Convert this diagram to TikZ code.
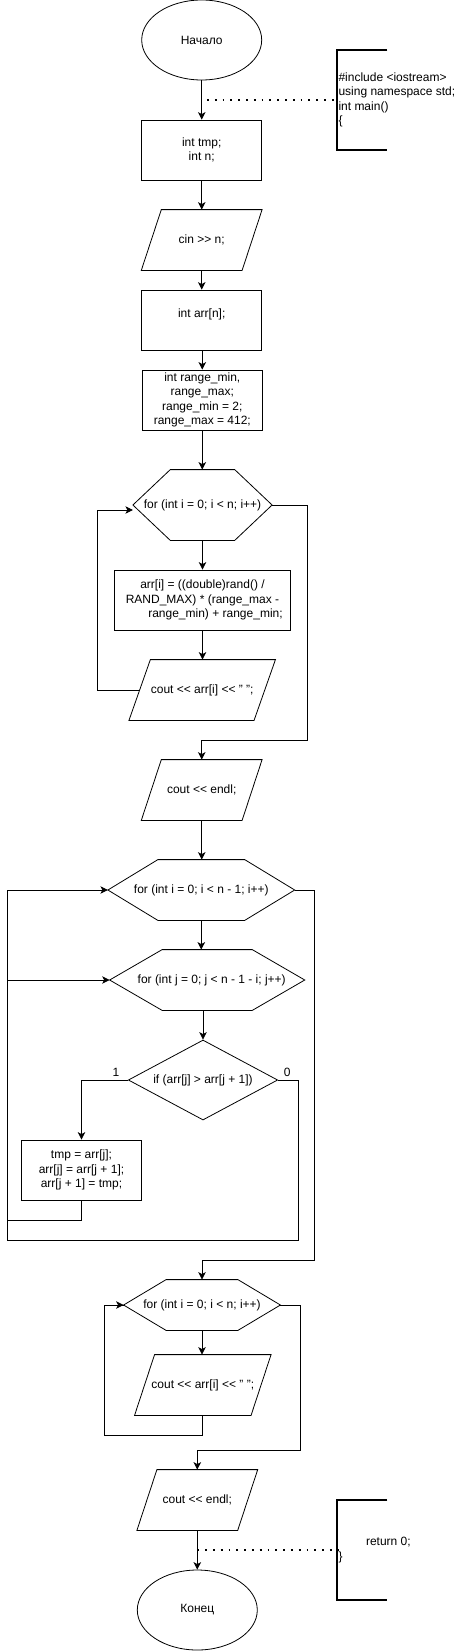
\documentclass[tikz,border=0pt]{standalone}
\usepackage{fontspec}
\setmainfont{Liberation Sans}
\usetikzlibrary{shapes.geometric,arrows.meta}
\newcommand\pgram[2]{\draw (#1.south west) -- ([xshift=#2]#1.north west) -- (#1.north east) -- ([xshift=-#2]#1.south east) -- cycle;}
\newcommand\hexa[2]{\draw (#1.west) -- ([xshift=#2]#1.north west) -- ([xshift=-#2]#1.north east) -- (#1.east) -- ([xshift=-#2]#1.south east) -- ([xshift=#2]#1.south west) -- cycle;}
\begin{document}
\begin{tikzpicture}[x=1pt,y=-1pt,
  every node/.style={font=\fontsize{12}{14.4}\selectfont, inner sep=0pt},
  term/.style={draw, ellipse, minimum width=120pt, minimum height=80pt},
  proc/.style={draw, rectangle, align=center},
  shp/.style={rectangle, align=center},
  dec/.style={draw, diamond, aspect=1.87, minimum width=149.4pt, minimum height=80pt},
  line/.style={line width=0.8pt},
  arr/.style={line width=0.8pt, -{Stealth[length=7.5pt,width=7.5pt,inset=2pt]}},
  note/.style={line width=2pt},
  dots/.style={line width=1.8pt, dash pattern=on 1.8pt off 6pt},
  lbl/.style={font=\fontsize{12}{14.4}\selectfont}
]
\useasboundingbox (0,0) rectangle (457,1651);
\begin{scope}[line width=0.8pt]
% nodes
\node[term] (start) at (201.7,40) {Начало};
\node[proc, minimum width=120pt, minimum height=60pt] (r1) at (201.7,150) {int tmp;\\int n;};
\node[shp, minimum width=120pt, minimum height=60pt] (p1) at (201.7,240) {cin >{}> n;};
\pgram{p1}{20pt}
\node[proc, minimum width=120pt, minimum height=60pt] (r2) at (201.7,320) {int arr[n];\\\mbox{}};
\node[proc, minimum width=120pt, minimum height=60pt] (r3) at (202.3,400) {int range\_min,\\range\_max;\\range\_min = 2;\\range\_max = 412;};
\node[shp, minimum width=138.4pt, minimum height=70pt] (h1) at (202.5,505) {for (int i = 0; i < n; i++)};
\hexa{h1}{37.4pt}
\node[proc, minimum width=176.4pt, minimum height=60pt] (r4) at (202.5,600) {arr[i] = ((double)rand() /\\RAND\_MAX) * (range\_max -\\\hspace*{26pt}range\_min) + range\_min;};
\node[shp, minimum width=145.7pt, minimum height=60pt] (p2) at (202.2,690) {cout <{}< arr[i] <{}< " ";};
\pgram{p2}{21.4pt}
\node[shp, minimum width=120pt, minimum height=60pt] (p3) at (201.7,790) {cout <{}< endl;};
\pgram{p3}{20pt}
\node[shp, minimum width=186pt, minimum height=60pt] (h2) at (201.3,890) {for (int i = 0; i < n - 1; i++)};
\hexa{h2}{50pt}
\node[shp, minimum width=194.3pt, minimum height=60pt] (h3) at (207.2,980) {\hspace*{9pt}for (int j = 0; j < n - 1 - i; j++)};
\hexa{h3}{52.5pt}
\node[dec] (d) at (203,1080) {if (arr[j] > arr[j + 1])};
\node[proc, minimum width=120.4pt, minimum height=60pt] (r5) at (81.5,1170) {tmp = arr[j];\\arr[j] = arr[j + 1];\\arr[j + 1] = tmp;};
\node[shp, minimum width=156pt, minimum height=50pt] (h4) at (202,1305) {for (int i = 0; i < n; i++)};
\hexa{h4}{42.5pt}
\node[shp, minimum width=135.7pt, minimum height=60pt] (p4) at (202.8,1385) {cout <{}< arr[i] <{}< " ";};
\pgram{p4}{20pt}
\node[shp, minimum width=120pt, minimum height=60pt] (p5) at (197.3,1500) {cout <{}< endl;};
\pgram{p5}{20pt}
\node[term] (end) at (197.3,1610) {Конец};
\end{scope}
% annotations
\coordinate (n1t) at (387.3,50);
\coordinate (n1b) at (387.3,150);
\draw[note] (n1t) -- (337.3,50) -- (337.3,150) -- (n1b);
\node[anchor=west, align=left] (n1) at (338.3,100) {\#include <iostream>\\using namespace std;\\int main()\\\{};
\coordinate (d1) at (207,100);
\draw[dots] (d1) -- (n1.west);
\coordinate (n2t) at (387.3,1500);
\coordinate (n2b) at (387.3,1600);
\draw[note] (n2t) -- (337.3,1500) -- (337.3,1600) -- (n2b);
\node[anchor=west, align=left] (n2) at (338.3,1550) {\hspace*{27.5pt}return 0;\\\}};
\coordinate (d2) at (197.3,1550);
\draw[dots] (d2) -- (n2.west);
% connectors
\draw[arr] (start) -- (r1);
\draw[arr] (r1) -- (p1);
\draw[arr] (p1) -- (r2);
\draw[arr] (r2.south -| r3.north) -- (r3);
\draw[arr] (r3) -- (r3.north |- h1.north);
\draw[arr] (h1.south) -- (h1.south |- r4.north);
\draw[arr] (r4) -- (r4.south |- p2.north);
\draw[arr] ([xshift=10.7pt]p2.west) -- (97.3,690) -- (97.3,510) -- ([yshift=-5pt]h1.west);
\draw[arr] (h1.east) -- (307.3,505) -- (307.3,740) -- (p3.north |- 0,740) -- (p3.north);
\draw[arr] (p3) -- (p3.south |- h2.north);
\draw[arr] (h2.south) -- (h2.south |- h3.north);
\draw[arr] (d.north |- h3.south) -- (d.north);
\draw[arr] (d.west) -- (r5.north |- d.west) -- (r5.north);
\node[lbl] (l1) at (116,1072.7) {1};
\draw[arr] (d.east) -- (298.3,1080) -- (298.3,1240) -- (7.3,1240) -- (7.3,890) -- (h2.west);
\node[lbl] (l0) at (287.3,1072.7) {0};
\draw[arr] (r5.south) -- (81.5,1220) -- (7.3,1220) -- (7.3,980) -- (h3.west);
\draw[arr] (h2.east) -- (314.3,890) -- (314.3,1260) -- (h4.north |- 0,1260) -- (h4.north);
\draw[arr] (h4.south) -- (h4.south |- p4.north);
\draw[line] (p4.south) -- (202.8,1435) -- (104.3,1435) -- (104.3,1305) -- (h4.west);
\draw[arr] (104.3,1305) -- (h4.west);
\draw[arr] (h4.east) -- (300.7,1305) -- (300.7,1450) -- (p5.north |- 0,1450) -- (p5.north);
\draw[arr] (p5) -- (end);
\end{tikzpicture}
\end{document}
